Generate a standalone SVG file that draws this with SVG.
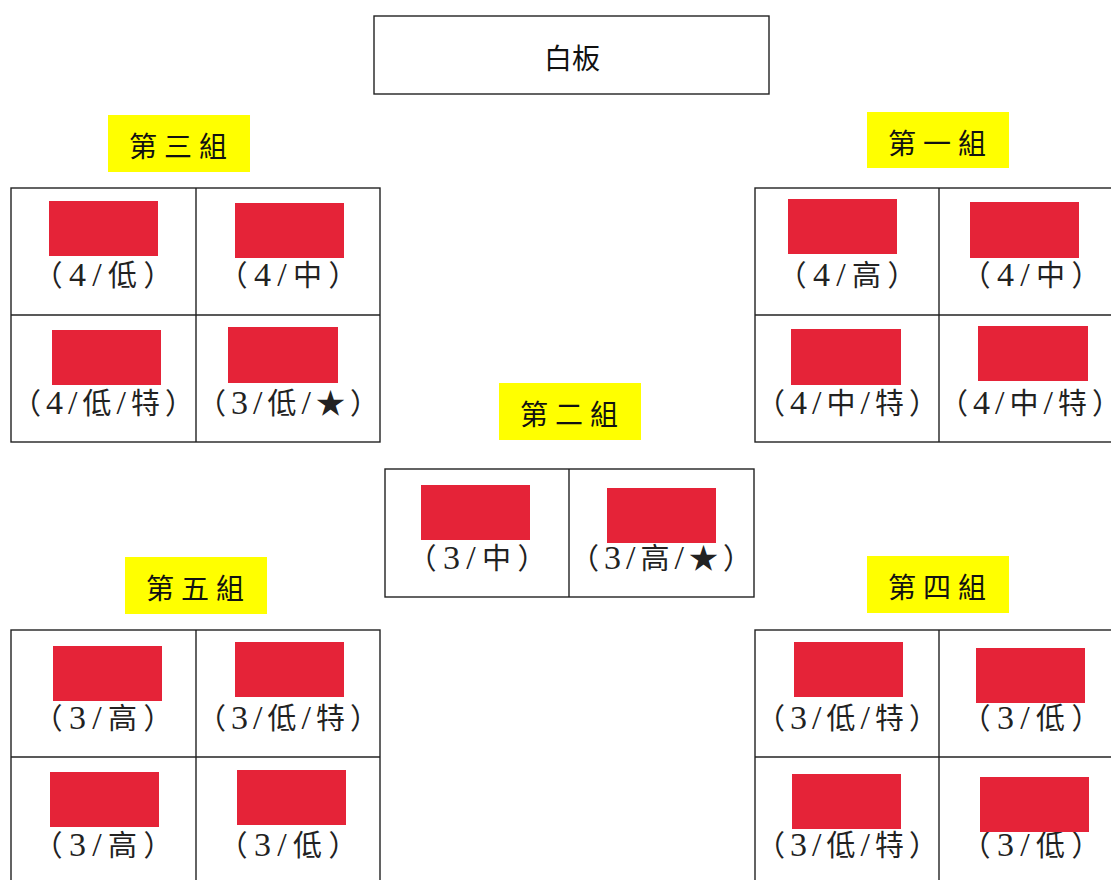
<svg xmlns="http://www.w3.org/2000/svg" width="1111" height="880" viewBox="0 0 1111 880">
<style>
.box{fill:#fff;stroke:#222;stroke-width:1.4}
.ln{stroke:#222;stroke-width:1.4;fill:none}
.lab{fill:#ffff00}
.lt{font-family:"Noto Sans CJK TC","Noto Sans CJK SC",sans-serif;font-size:28px;fill:#111;text-anchor:middle}
.ct{font-family:"Liberation Serif","Noto Sans CJK TC",serif;font-size:29px;fill:#222;text-anchor:middle}
.d{font-size:34px}
.red{fill:#e52338}
</style>
<rect width="1111" height="880" fill="#fff"/>
<g id="whiteboard">
<rect class="box" x="374" y="16" width="395" height="78"/>
<text class="lt" x="572" y="69" font-size="30">白板</text>
</g>
<g id="group3">
<rect class="lab" x="108" y="115" width="142" height="57"/>
<text class="lt" x="178" y="157" textLength="98" lengthAdjust="spacing">第三組</text>
<rect class="box" x="11" y="188" width="369" height="254"/>
<line class="ln" x1="196" y1="188" x2="196" y2="442"/>
<line class="ln" x1="11" y1="315" x2="380" y2="315"/>
<text class="ct" x="103" y="286" textLength="139" lengthAdjust="spacing">（<tspan class="d">4/</tspan>低）</text>
<text class="ct" x="288" y="286" textLength="139" lengthAdjust="spacing">（<tspan class="d">4/</tspan>中）</text>
<text class="ct" x="103" y="414" textLength="182" lengthAdjust="spacing">（<tspan class="d">4/</tspan>低<tspan class="d">/</tspan>特）</text>
<text class="ct" x="288" y="414" textLength="182" lengthAdjust="spacing">（<tspan class="d">3/</tspan>低<tspan class="d">/</tspan>★）</text>
<rect class="red" x="49" y="201" width="109" height="55"/>
<rect class="red" x="235" y="203" width="109" height="55"/>
<rect class="red" x="52" y="330" width="109" height="55"/>
<rect class="red" x="228" y="327" width="110" height="56"/>
</g>
<g id="group1">
<rect class="lab" x="867" y="112" width="142" height="56"/>
<text class="lt" x="937" y="154" textLength="98" lengthAdjust="spacing">第一組</text>
<rect class="box" x="755" y="188" width="368" height="254"/>
<line class="ln" x1="939" y1="188" x2="939" y2="442"/>
<line class="ln" x1="755" y1="315" x2="1123" y2="315"/>
<text class="ct" x="847" y="286" textLength="139" lengthAdjust="spacing">（<tspan class="d">4/</tspan>高）</text>
<text class="ct" x="1031" y="286" textLength="139" lengthAdjust="spacing">（<tspan class="d">4/</tspan>中）</text>
<text class="ct" x="847" y="414" textLength="182" lengthAdjust="spacing">（<tspan class="d">4/</tspan>中<tspan class="d">/</tspan>特）</text>
<text class="ct" x="1030" y="414" textLength="182" lengthAdjust="spacing">（<tspan class="d">4/</tspan>中<tspan class="d">/</tspan>特）</text>
<rect class="red" x="788" y="199" width="109" height="55"/>
<rect class="red" x="970" y="202" width="109" height="56"/>
<rect class="red" x="791" y="329" width="110" height="56"/>
<rect class="red" x="978" y="326" width="110" height="55"/>
</g>
<g id="group2">
<rect class="lab" x="499" y="383" width="142" height="57"/>
<text class="lt" x="569" y="425" textLength="98" lengthAdjust="spacing">第二組</text>
<rect class="box" x="385" y="469" width="369" height="128"/>
<line class="ln" x1="569" y1="469" x2="569" y2="597"/>
<text class="ct" x="477" y="569" textLength="139" lengthAdjust="spacing">（<tspan class="d">3/</tspan>中）</text>
<text class="ct" x="661" y="569" textLength="182" lengthAdjust="spacing">（<tspan class="d">3/</tspan>高<tspan class="d">/</tspan>★）</text>
<rect class="red" x="421" y="485" width="109" height="55"/>
<rect class="red" x="607" y="488" width="109" height="55"/>
</g>
<g id="group5">
<rect class="lab" x="125" y="557" width="142" height="57"/>
<text class="lt" x="195" y="599" textLength="98" lengthAdjust="spacing">第五組</text>
<rect class="box" x="11" y="630" width="369" height="256"/>
<line class="ln" x1="196" y1="630" x2="196" y2="886"/>
<line class="ln" x1="11" y1="757" x2="380" y2="757"/>
<text class="ct" x="103" y="729" textLength="139" lengthAdjust="spacing">（<tspan class="d">3/</tspan>高）</text>
<text class="ct" x="288" y="729" textLength="182" lengthAdjust="spacing">（<tspan class="d">3/</tspan>低<tspan class="d">/</tspan>特）</text>
<text class="ct" x="103" y="856" textLength="139" lengthAdjust="spacing">（<tspan class="d">3/</tspan>高）</text>
<text class="ct" x="288" y="856" textLength="139" lengthAdjust="spacing">（<tspan class="d">3/</tspan>低）</text>
<rect class="red" x="53" y="646" width="109" height="55"/>
<rect class="red" x="235" y="642" width="109" height="55"/>
<rect class="red" x="50" y="772" width="109" height="55"/>
<rect class="red" x="237" y="770" width="109" height="55"/>
</g>
<g id="group4">
<rect class="lab" x="867" y="556" width="142" height="57"/>
<text class="lt" x="937" y="598" textLength="98" lengthAdjust="spacing">第四組</text>
<rect class="box" x="755" y="630" width="368" height="256"/>
<line class="ln" x1="939" y1="630" x2="939" y2="886"/>
<line class="ln" x1="755" y1="757" x2="1123" y2="757"/>
<text class="ct" x="847" y="729" textLength="182" lengthAdjust="spacing">（<tspan class="d">3/</tspan>低<tspan class="d">/</tspan>特）</text>
<text class="ct" x="1031" y="729" textLength="139" lengthAdjust="spacing">（<tspan class="d">3/</tspan>低）</text>
<text class="ct" x="847" y="856" textLength="182" lengthAdjust="spacing">（<tspan class="d">3/</tspan>低<tspan class="d">/</tspan>特）</text>
<text class="ct" x="1031" y="856" textLength="139" lengthAdjust="spacing">（<tspan class="d">3/</tspan>低）</text>
<rect class="red" x="794" y="642" width="109" height="55"/>
<rect class="red" x="976" y="648" width="109" height="55"/>
<rect class="red" x="792" y="774" width="109" height="55"/>
<rect class="red" x="980" y="777" width="109" height="55"/>
</g>
</svg>
